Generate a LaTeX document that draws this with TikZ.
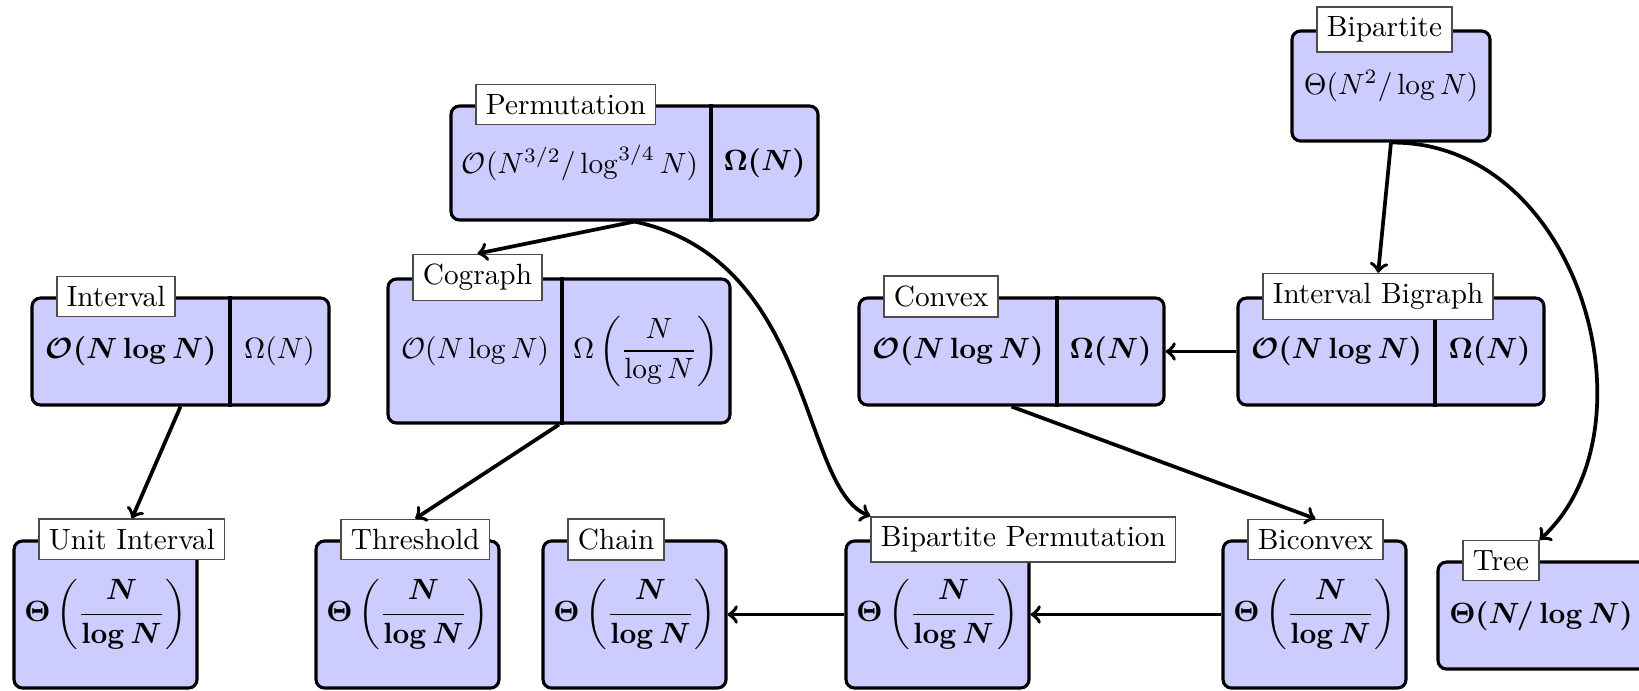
\documentclass[tikz,border=0pt]{standalone}
\usepackage{amsmath}
\usetikzlibrary{fit,calc}
\begin{document}
\begin{tikzpicture}[x=0.3415pt, y=-0.3415pt,
  box/.style={draw, line width=1.07pt, rounded corners=2.9pt, fill=blue!20, inner sep=0pt},
  tag/.style={draw=black!70, line width=0.5pt, fill=white, anchor=west},
  txt/.style={inner sep=0pt},
  divider/.style={line width=1.07pt},
  conn/.style={->, line width=1.27pt}]
\useasboundingbox (0,0) rectangle (1639,691);
\clip (0,0) rectangle (1639,691);

% ---- boxes ----
\node[box, fit={(1292,31) (1490,141)}] (bip) {};
\node[box, fit={(451,106) (818,220)}] (perm) {};
\node[box, fit={(32,298) (329,405)}] (intv) {};
\node[box, fit={(388,279) (730,423)}] (cog) {};
\node[box, fit={(859,298) (1164,405)}] (conv) {};
\node[box, fit={(1238,298) (1544,405)}] (ibg) {};
\node[box, fit={(14,541) (197,688)}] (uint) {};
\node[box, fit={(316,541) (499,688)}] (thr) {};
\node[box, fit={(543,541) (726,688)}] (chain) {};
\node[box, fit={(846,541) (1029,688)}] (bperm) {};
\node[box, fit={(1223,541) (1406,688)}] (bicon) {};
\node[box, fit={(1438,562) (1650,669)}] (tree) {};

% ---- cell dividers ----
\coordinate (dperm) at (711,0);
\coordinate (dintv) at (230,0);
\coordinate (dcog) at (562,0);
\coordinate (dconv) at (1057,0);
\coordinate (dibg) at (1435,0);
\draw[divider] (perm.north -| dperm) -- (perm.south -| dperm);
\draw[divider] (intv.north -| dintv) -- (intv.south -| dintv);
\draw[divider] (cog.north -| dcog) -- (cog.south -| dcog);
\draw[divider] (conv.north -| dconv) -- (conv.south -| dconv);
\draw[divider] (ibg.north -| dibg) -- (ibg.south -| dibg);

% ---- complexities ----
\node[txt] (bipM) at (1391,86) {$\Theta(N^2/\log N)$};
\node[txt] (permL) at (580,163) {$\mathcal{O}(N^{3/2}/\log^{3/4} N)$};
\node[txt] (permR) at (764.5,163) {$\boldsymbol{\Omega(N)}$};
\node[txt] (intvL) at (131,351.5) {$\boldsymbol{\mathcal{O}(N\log N)}$};
\node[txt] (intvR) at (279.5,351.5) {$\Omega(N)$};
\node[txt] (cogL) at (475,351) {$\mathcal{O}(N\log N)$};
\node[txt] (cogR) at (646,351) {$\Omega\left(\dfrac{N}{\log N}\right)$};
\node[txt] (convL) at (958,351.5) {$\boldsymbol{\mathcal{O}(N\log N)}$};
\node[txt] (convR) at (1110.5,351.5) {$\boldsymbol{\Omega(N)}$};
\node[txt] (ibgL) at (1336.5,351.5) {$\boldsymbol{\mathcal{O}(N\log N)}$};
\node[txt] (ibgR) at (1489.5,351.5) {$\boldsymbol{\Omega(N)}$};
\node[txt] (uintM) at (uint.center) {$\boldsymbol{\Theta\left(\dfrac{N}{\log N}\right)}$};
\node[txt] (thrM) at (thr.center) {$\boldsymbol{\Theta\left(\dfrac{N}{\log N}\right)}$};
\node[txt] (chainM) at (chain.center) {$\boldsymbol{\Theta\left(\dfrac{N}{\log N}\right)}$};
\node[txt] (bpermM) at (bperm.center) {$\boldsymbol{\Theta\left(\dfrac{N}{\log N}\right)}$};
\node[txt] (biconM) at (bicon.center) {$\boldsymbol{\Theta\left(\dfrac{N}{\log N}\right)}$};
\node[txt] (treeM) at (1541,616) {$\boldsymbol{\Theta(N/\log N)}$};

% ---- class names ----
\node[tag] (bipT) at ($(bip.north west)+(26,0)$) {Bipartite};
\node[tag] (permT) at ($(perm.north west)+(26,0)$) {Permutation};
\node[tag] (intvT) at ($(intv.north west)+(26,0)$) {Interval};
\node[tag] (cogT) at ($(cog.north west)+(26,0)$) {Cograph};
\node[tag] (convT) at ($(conv.north west)+(26,0)$) {Convex};
\node[tag] (ibgT) at ($(ibg.north west)+(26,0)$) {Interval Bigraph};
\node[tag] (uintT) at ($(uint.north west)+(26,0)$) {Unit Interval};
\node[tag] (thrT) at ($(thr.north west)+(26,0)$) {Threshold};
\node[tag] (chainT) at ($(chain.north west)+(26,0)$) {Chain};
\node[tag] (bpermT) at ($(bperm.north west)+(26,0)$) {Bipartite Permutation};
\node[tag] (biconT) at ($(bicon.north west)+(26,0)$) {Biconvex};
\node[tag] (treeT) at ($(tree.north west)+(26,0)$) {Tree};

% ---- inclusions ----
\draw[conn] (perm.south) -- (cogT.north);
\draw[conn] (perm.south) .. controls (815,260) and (800,490) .. (bpermT.north west);
\draw[conn] (intv.south) -- (uintT.north);
\draw[conn] (cog.south) -- (thrT.north);
\draw[conn] (bip.south) -- (ibgT.north);
\draw[conn] (bip.south) .. controls (1580,141) and (1660,430) .. (treeT.north east);
\draw[conn] (ibg.west) -- (conv.east);
\draw[conn] (conv.south) -- (biconT.north);
\draw[conn] (bicon.west) -- (bperm.east);
\draw[conn] (bperm.west) -- (chain.east);
\end{tikzpicture}
\end{document}
